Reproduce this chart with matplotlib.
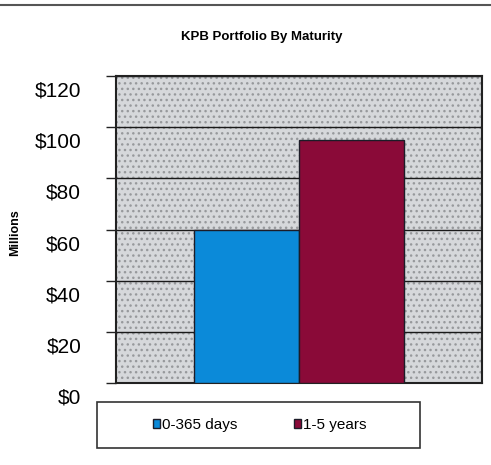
import numpy as np
import matplotlib
matplotlib.use("Agg")
import matplotlib.pyplot as plt
from matplotlib.patches import Rectangle
from matplotlib.lines import Line2D
from matplotlib.transforms import ScaledTranslation

plt.rcParams['font.family'] = ['Liberation Sans', 'DejaVu Sans']

# data
title = 'KPB Portfolio By Maturity'
series = ['0-365 days', '1-5 years']
values = [60, 95]
colors = ['#0b8ad9', '#8a0a38']
yticks = [0, 20, 40, 60, 80, 100, 120]
ytick_labels = ['$' + str(v) for v in yticks]

fig = plt.figure(figsize=(4.91, 4.65), dpi=100)
ax = fig.add_axes([116/491, 1 - 383/465, 366/491, 307/465])

# speckled grey plot area
ax.set_facecolor('#d6d8db')
ax.add_patch(Rectangle((0, 0), 1, 1, transform=ax.transAxes, facecolor='#d6d8db',
                       edgecolor='#97999c', hatch='...', lw=0, zorder=0))

width = 0.287
pos = [-width / 2, width / 2]
bars = []
for p, v, c, s in zip(pos, values, colors, series):
    b = ax.bar(p, v, width=width, color=c, edgecolor='#1c1c28', lw=1, label=s, zorder=3)
    bars.append(b)

ax.set_xlim(-0.5, 0.5)
ax.set_ylim(0, 120)
ax.set_xticks([])
ax.set_yticks(yticks)
ax.set_yticklabels(ytick_labels, fontsize=15)
ax.tick_params(axis='y', length=7, width=1, pad=18, color='#222222')
ax.yaxis.grid(True, color='#1a1a1a', lw=1)
ax.set_axisbelow(True)
for sp in ax.spines.values():
    sp.set_linewidth(1.5)
    sp.set_color('#222222')

# Excel-style labels sit a bit below their gridline
off = ScaledTranslation(0, -13 / 100, fig.dpi_scale_trans)
for lab in ax.get_yticklabels():
    lab.set_transform(lab.get_transform() + off)

fig.text(15/491, 1 - 233/465, 'Millions', rotation=90, fontsize=9, fontweight='bold',
         ha='center', va='center')
fig.text(262/491, 1 - 37/465, title, fontsize=9.5, fontweight='bold',
         ha='center', va='center')

# legend box below the plot
fig.patches.append(Rectangle((97/491, 1 - 448/465), 323/491, 46/465,
                             transform=fig.transFigure, fill=False,
                             edgecolor='#333333', lw=1.2))
fig.legend(handles=[b[0] for b in bars], labels=series, loc='center',
           bbox_to_anchor=(260/491, 1 - 425/465), ncol=2, frameon=False,
           fontsize=11, handlelength=0.45, handleheight=0.45,
           handletextpad=0.15, columnspacing=3.7)

# scanned page border at the top
fig.lines.append(Line2D([0, 1], [1 - 5/465, 1 - 5/465], transform=fig.transFigure,
                        color='#555555', lw=1.5))

fig.savefig('out.png', dpi=100)
